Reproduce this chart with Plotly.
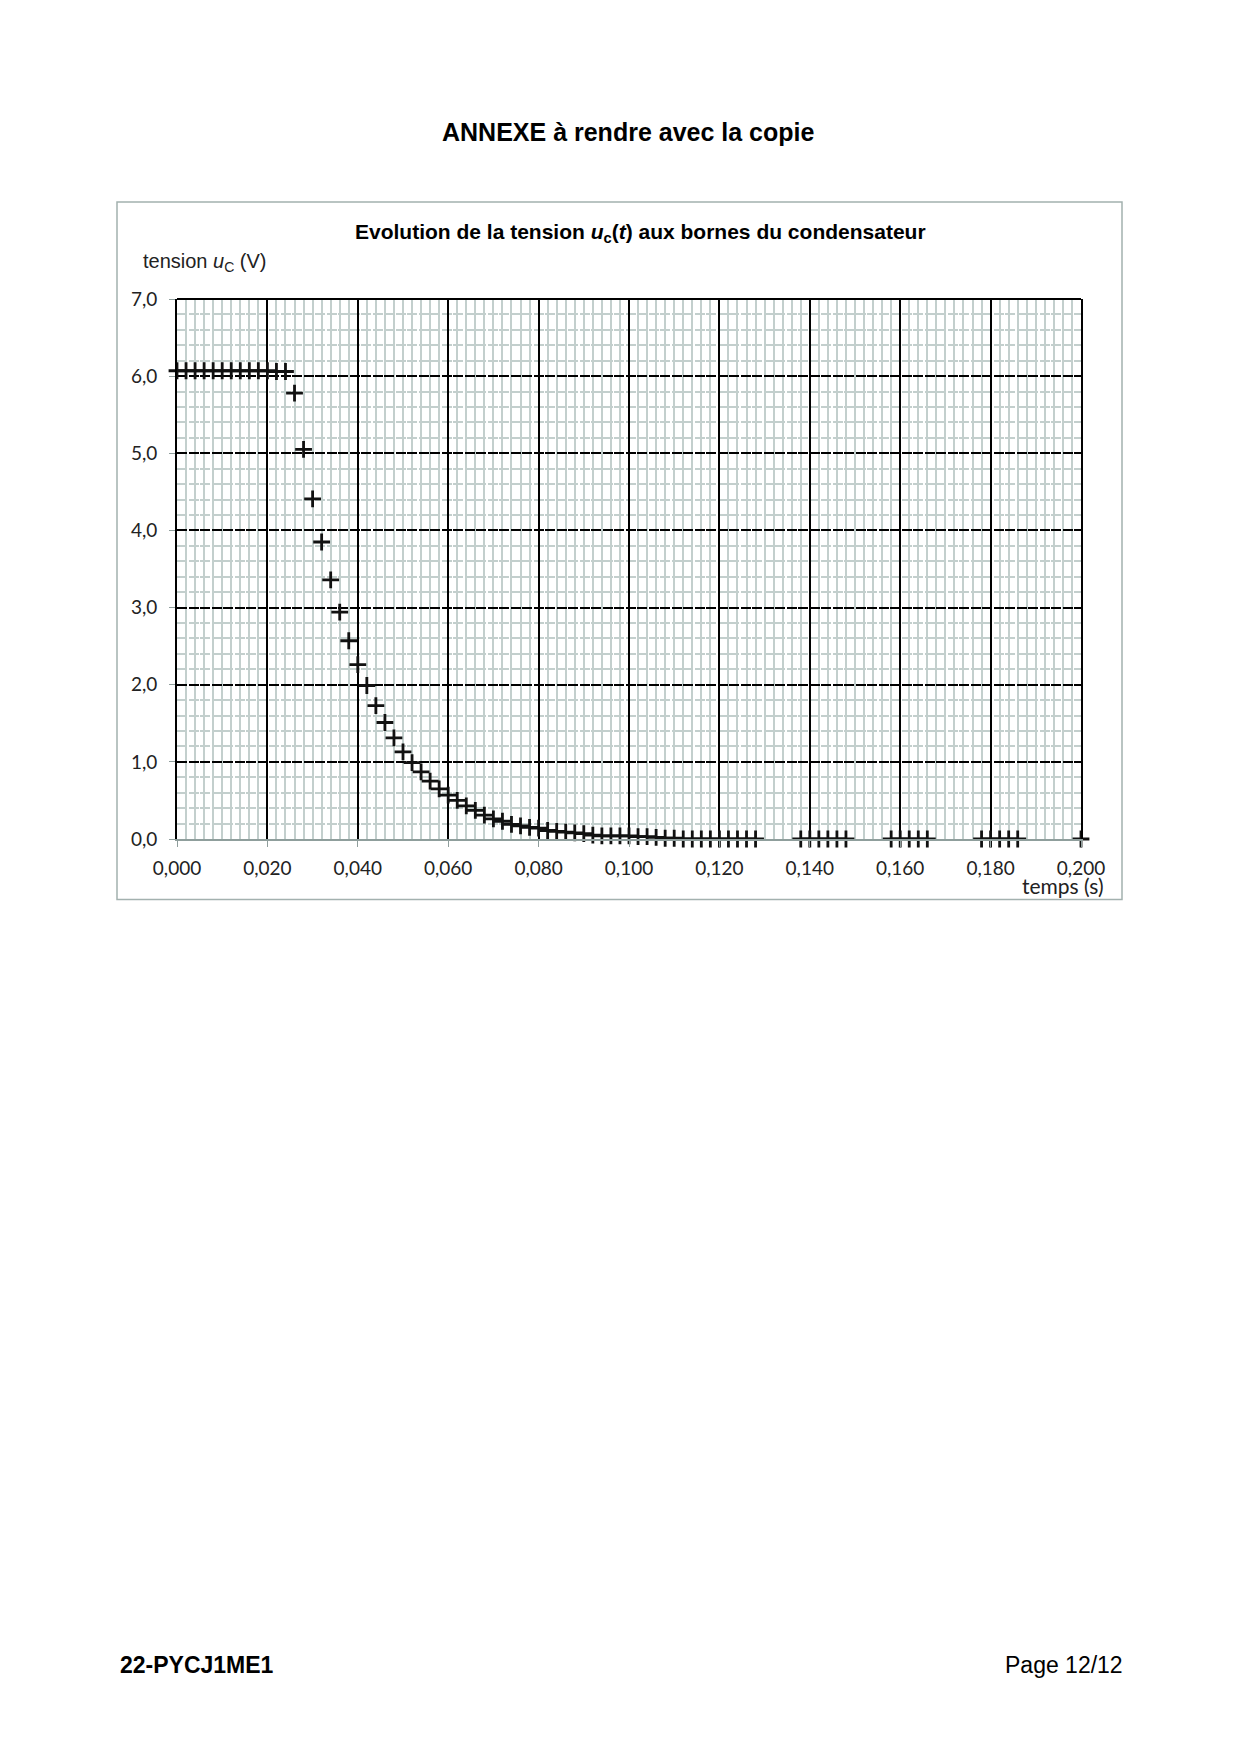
import plotly.graph_objects as go

t_s = [0.000, 0.002, 0.004, 0.006, 0.008, 0.010, 0.012, 0.014, 0.016, 0.018,
       0.020, 0.022, 0.024, 0.026, 0.028, 0.030, 0.032, 0.034, 0.036, 0.038,
       0.040, 0.042, 0.044, 0.046, 0.048, 0.050, 0.052, 0.054, 0.056, 0.058,
       0.060, 0.062, 0.064, 0.066, 0.068, 0.070, 0.072, 0.074, 0.076, 0.078,
       0.080, 0.082, 0.084, 0.086, 0.088, 0.090, 0.092, 0.094, 0.096, 0.098,
       0.100, 0.102, 0.104, 0.106, 0.108, 0.110, 0.112, 0.114, 0.116, 0.118,
       0.120, 0.122, 0.124, 0.126, 0.128,
       0.138, 0.140, 0.142, 0.144, 0.146, 0.148,
       0.158, 0.160, 0.162, 0.164, 0.166,
       0.178, 0.180, 0.182, 0.184, 0.186,
       0.200]
uc_V = [6.07, 6.07, 6.07, 6.07, 6.07, 6.07, 6.07, 6.07, 6.07, 6.07,
        6.07, 6.06, 6.06, 5.78, 5.05, 4.41, 3.85, 3.36, 2.94, 2.57,
        2.26, 1.99, 1.73, 1.51, 1.31, 1.13, 0.99, 0.87, 0.75, 0.65,
        0.57, 0.50, 0.43, 0.37, 0.31, 0.26, 0.23, 0.19, 0.17, 0.15,
        0.14, 0.11, 0.10, 0.09, 0.08, 0.07, 0.05, 0.04, 0.04, 0.04,
        0.04, 0.03, 0.03, 0.02, 0.01, 0.01, 0.00, 0.00, 0.00, 0.00,
        0.00, 0.00, 0.00, 0.00, 0.00,
        0.00, 0.00, 0.00, 0.00, 0.00, 0.00,
        0.00, 0.00, 0.00, 0.00, 0.00,
        0.00, 0.00, 0.00, 0.00, 0.00,
        0.00]

OFF = 8                      # default body margin of the html page
W, H = 1240 - OFF, 1754 - OFF
L, R, T, B = 177, 1081, 299, 839.5   # plot area, page pixels

def px(x):
    return (x - L) / (R - L)

def py(y):
    return (B - y) / (B - T)

ARIAL = "Liberation Sans, Arial, sans-serif"
TICKF = "Lato, Open Sans, sans-serif"
minor_col = "#c3cfcd"

fig = go.Figure()
fig.add_trace(go.Scatter(
    x=t_s, y=uc_V, mode="markers", cliponaxis=False,
    marker=dict(symbol="cross-thin", size=12, color="black",
                line=dict(color="#111", width=2.8)),
    showlegend=False))

fig.update_layout(
    width=W, height=H, autosize=False,
    margin=dict(l=L - OFF, r=W - (R - OFF), t=T - OFF, b=H - (B - OFF)),
    paper_bgcolor="white", plot_bgcolor="white",
    separators=", ",
    xaxis=dict(range=[0, 0.2], tick0=0, dtick=0.02, tickformat=".3f",
               showgrid=True, gridcolor="black", gridwidth=1.8,
               minor=dict(dtick=0.002, showgrid=True, gridcolor=minor_col,
                          gridwidth=1.5, ticks=""),
               showline=True, linecolor="#8f9e9c", linewidth=1.5,
               ticks="outside", ticklen=6, tickcolor="#8f9e9c",
               ticklabelstandoff=5, zeroline=False,
               tickfont=dict(family=TICKF, size=19, color="#222")),
    yaxis=dict(range=[0, 7], tick0=0, dtick=1, tickformat=".1f",
               showgrid=True, gridcolor="black", gridwidth=1.6,
               griddash="10px,1.5px",
               minor=dict(dtick=0.2, showgrid=True, gridcolor=minor_col,
                          gridwidth=1.5, ticks=""),
               showline=True, linecolor="black", linewidth=1.8, mirror=True,
               ticks="outside", ticklen=6, tickcolor="#8f9e9c",
               ticklabelstandoff=8, zeroline=False,
               tickfont=dict(family=TICKF, size=19, color="#222")),
)

# chart frame
fig.add_shape(type="rect", xref="paper", yref="paper",
              x0=px(117), x1=px(1122), y0=py(900), y1=py(202),
              line=dict(color="#a3b1af", width=1.5), layer="below")
# top edge of plot
fig.add_shape(type="line", xref="paper", yref="paper",
              x0=0, x1=1, y0=1, y1=1, line=dict(color="black", width=1.8))

ann = [
    dict(x=px(628), y=py(132), text="<b>ANNEXE à rendre avec la copie</b>",
         font=dict(family=ARIAL, size=25, color="black"), xanchor="center"),
    dict(x=px(640), y=py(233),
         text="<b>Evolution de la tension <i>u</i><sub>c</sub>(<i>t</i>) aux bornes du condensateur</b>",
         font=dict(family=ARIAL, size=21, color="black"), xanchor="center"),
    dict(x=px(141), y=py(262), text="tension <i>u</i><sub>C</sub> (V)",
         font=dict(family=ARIAL, size=20, color="#222"), xanchor="left"),
    dict(x=px(1106), y=py(886), text="temps (s)",
         font=dict(family=TICKF, size=21, color="#222"), xanchor="right"),
    dict(x=px(118), y=py(1666), text="<b>22-PYCJ1ME1</b>",
         font=dict(family=ARIAL, size=23, color="black"), xanchor="left"),
    dict(x=px(1125), y=py(1666), text="Page 12/12",
         font=dict(family=ARIAL, size=23, color="black"), xanchor="right"),
]
for a in ann:
    fig.add_annotation(xref="paper", yref="paper", showarrow=False,
                       yanchor="middle", **a)

fig.write_html("out.html")
